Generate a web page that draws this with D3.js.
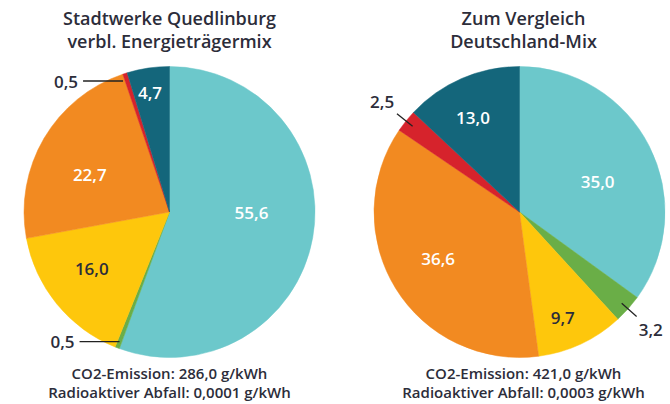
<!DOCTYPE html>
<html>
<head>
<meta charset="utf-8">
<script src="https://cdn.jsdelivr.net/npm/d3@7/dist/d3.min.js"></script>
<style>
  html, body { margin: 0; padding: 0; background: #ffffff; }
  svg { display: block; }
  text { font-family: "Open Sans", "Noto Sans", sans-serif; font-weight: 600; }
</style>
</head>
<body>
<svg id="chart" width="670" height="404"></svg>
<script>
// ---- data ----
const categories = ["Erneuerbare (EEG)", "Sonstige erneuerbare", "Erdgas", "Kohle", "Sonstige fossile", "Kernkraft"];
const colors = ["#6cc8cb", "#6aae47", "#fec70c", "#f28a21", "#d6232c", "#14667b"];
const quedlinburgValues = [55.6, 0.5, 16.0, 22.7, 0.5, 4.7];
const deutschlandValues = [35.0, 3.2, 9.7, 36.6, 2.5, 13.0];
const titlesLeft = ["Stadtwerke Quedlinburg", "verbl. Energieträgermix"];
const titlesRight = ["Zum Vergleich", "Deutschland-Mix"];
const footLeft = ["CO2-Emission: 286,0 g/kWh", "Radioaktiver Abfall: 0,0001 g/kWh"];
const footRight = ["CO2-Emission: 421,0 g/kWh", "Radioaktiver Abfall: 0,0003 g/kWh"];

// ---- layout ----
const svg = d3.select("#chart");
const R = 145.5;
const textColor = "#2c2d3a";
const fmt = v => d3.format(".1f")(v).replace(".", ",");
const deg = Math.PI / 180;

const charts = [
  { values: quedlinburgValues, cx: 169.5, cy: 212, titles: titlesLeft, foot: footLeft, titleX: 169.5, footX: 169.5,
    labelRadius: [82, 0, 96, 88, 0, 121], labelShift: [-10, 0, 3.3, -5.4, -1.7, -0.8], outsideStyle: "horizontal" },
  { values: deutschlandValues, cx: 519.5, cy: 212, titles: titlesRight, foot: footRight, titleX: 523.5, footX: 523.5,
    labelRadius: [84, 0, 114, 94, 0, 105], labelShift: [5.4, 0, 2.7, 1.7, 0, -2.9], outsideStyle: "radial" }
];

const pie = d3.pie().sort(null).value(d => d);
const arc = d3.arc().innerRadius(0).outerRadius(R);

charts.forEach(c => {
  const g = svg.append("g").attr("transform", `translate(${c.cx},${c.cy})`);
  const arcs = pie(c.values);

  g.selectAll("path.slice").data(arcs).join("path")
    .attr("class", "slice")
    .attr("d", arc)
    .attr("fill", (d, i) => colors[i])
    .attr("stroke", (d, i) => colors[i])
    .attr("stroke-width", 0.5);

  arcs.forEach((d, i) => {
    const mid = (d.startAngle + d.endAngle) / 2 + c.labelShift[i] * deg;
    const v = c.values[i];
    if (v >= 4) {
      const rl = c.labelRadius[i];
      const x = Math.sin(mid) * rl, y = -Math.cos(mid) * rl;
      g.append("text")
        .attr("x", x).attr("y", y)
        .attr("text-anchor", "middle")
        .attr("dominant-baseline", "central")
        .attr("font-size", 17)
        .attr("fill", i === 2 ? textColor : "#ffffff")
        .text(fmt(v));
    } else if (c.outsideStyle === "horizontal") {
      const r0 = 139;
      const px = Math.sin(mid) * r0, py = -Math.cos(mid) * r0;
      const lineLen = 40;
      g.append("line")
        .attr("x1", px).attr("y1", py)
        .attr("x2", px - lineLen).attr("y2", py)
        .attr("stroke", "#222").attr("stroke-width", 1.3);
      g.append("text")
        .attr("x", px - lineLen - 5).attr("y", py)
        .attr("text-anchor", "end")
        .attr("dominant-baseline", "central")
        .attr("font-size", 17)
        .attr("fill", textColor)
        .text(fmt(v));
    } else {
      const r0 = 137, r1 = 157, rt = 176;
      const sx = Math.sin(mid), sy = -Math.cos(mid);
      g.append("line")
        .attr("x1", sx * r0).attr("y1", sy * r0)
        .attr("x2", sx * r1).attr("y2", sy * r1)
        .attr("stroke", "#222").attr("stroke-width", 1.3);
      g.append("text")
        .attr("x", sx * rt).attr("y", sy * rt)
        .attr("text-anchor", "middle")
        .attr("dominant-baseline", "central")
        .attr("font-size", 17)
        .attr("fill", textColor)
        .text(fmt(v));
    }
  });

  c.titles.forEach((t, j) => {
    svg.append("text")
      .attr("x", c.titleX).attr("y", 25 + j * 22.5)
      .attr("text-anchor", "middle")
      .attr("font-size", 18)
      .attr("fill", textColor)
      .text(t);
  });
  c.foot.forEach((t, j) => {
    svg.append("text")
      .attr("x", c.footX).attr("y", 379 + j * 18.5)
      .attr("text-anchor", "middle")
      .attr("font-size", 15)
      .attr("fill", textColor)
      .text(t);
  });
});
</script>
</body>
</html>
